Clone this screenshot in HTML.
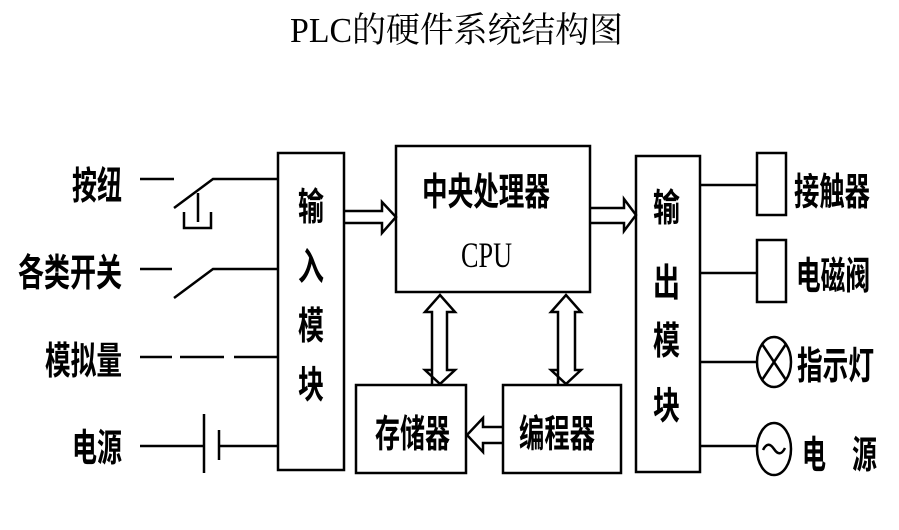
<!DOCTYPE html>
<html><head><meta charset="utf-8"><style>html,body{margin:0;padding:0;background:#fff}svg{display:block}</style></head>
<body>
<svg width="899" height="530" viewBox="0 0 899 530" xmlns="http://www.w3.org/2000/svg">
<g font-family="'Liberation Sans','Noto Sans CJK SC',sans-serif" font-size="38" font-weight="bold" fill="#000">
<text x="290" y="42" font-weight="normal" font-family="'Liberation Serif','Noto Serif CJK SC',serif" font-size="35" textLength="333" lengthAdjust="spacingAndGlyphs">PLC的硬件系统结构图</text>
<text x="72" y="199" textLength="50" lengthAdjust="spacingAndGlyphs">按纽</text>
<text x="18" y="286" textLength="104" lengthAdjust="spacingAndGlyphs">各类开关</text>
<text x="45" y="374" textLength="77" lengthAdjust="spacingAndGlyphs">模拟量</text>
<text x="72" y="461" textLength="50" lengthAdjust="spacingAndGlyphs">电源</text>
<text x="298" y="220" textLength="26" lengthAdjust="spacingAndGlyphs">输</text>
<text x="298" y="280" textLength="26" lengthAdjust="spacingAndGlyphs">入</text>
<text x="298" y="339" textLength="26" lengthAdjust="spacingAndGlyphs">模</text>
<text x="298" y="398" textLength="26" lengthAdjust="spacingAndGlyphs">块</text>
<text x="653" y="221" textLength="27" lengthAdjust="spacingAndGlyphs">输</text>
<text x="653" y="296" textLength="27" lengthAdjust="spacingAndGlyphs">出</text>
<text x="653" y="354" textLength="27" lengthAdjust="spacingAndGlyphs">模</text>
<text x="653" y="419" textLength="27" lengthAdjust="spacingAndGlyphs">块</text>
<text x="422" y="205" textLength="128" lengthAdjust="spacingAndGlyphs">中央处理器</text>
<text x="461" y="267" font-weight="normal" font-family="'Liberation Serif',serif" font-size="36" textLength="51" lengthAdjust="spacingAndGlyphs">CPU</text>
<text x="375" y="447" textLength="75" lengthAdjust="spacingAndGlyphs">存储器</text>
<text x="519" y="447" textLength="76" lengthAdjust="spacingAndGlyphs">编程器</text>
<text x="794" y="205" textLength="76" lengthAdjust="spacingAndGlyphs">接触器</text>
<text x="796" y="289" textLength="74" lengthAdjust="spacingAndGlyphs">电磁阀</text>
<text x="797" y="379" textLength="77" lengthAdjust="spacingAndGlyphs">指示灯</text>
<text x="802" y="468" textLength="24" lengthAdjust="spacingAndGlyphs">电</text>
<text x="852" y="468" textLength="25" lengthAdjust="spacingAndGlyphs">源</text>
</g>
<g fill="none" stroke="#000" stroke-width="2.5">
<rect x="278" y="153" width="66" height="317"/>
<rect x="396" y="146" width="194" height="146"/>
<rect x="636" y="156" width="64" height="316"/>
<rect x="356" y="385" width="110" height="88"/>
<rect x="503" y="385" width="118" height="88"/>
<path d="M140 179H174M174 208L213 179H278"/>
<path d="M198 193V222M184 212V228H211V212"/>
<path d="M140 269H172M174 298L213 269H278"/>
<path d="M140 357H172M180 357H224M234 357H278"/>
<path d="M140 446H204M204 414V473M219 430V460M219 446H278"/>
<path d="M344 211H382V202L396 217L382 233V223H344"/>
<path d="M590 208H624V199L636 215L624 231V223H590"/>
<path d="M503 427H483V418L467 435L483 452V443H503"/>
<path d="M432 384V312L425 312L440 295L455 312L447 312V370L455 370L440 384L425 370L432 370"/>
<path d="M558 384V312L551 312L566 295L581 312L575 312V370L581 370L566 384L551 370L558 370"/>
<path d="M700 185H758M700 273H758M700 362H757M700 446H757"/>
<rect x="757" y="153" width="29" height="62"/>
<rect x="757" y="240" width="29" height="62"/>
<ellipse cx="774" cy="362" rx="17" ry="25"/>
<path d="M762 344L786 380M786 344L762 380"/>
<ellipse cx="774" cy="449" rx="17" ry="26"/>
<path d="M763 450Q768 440 774 449T785 448"/>
</g>
</svg>
</body></html>
